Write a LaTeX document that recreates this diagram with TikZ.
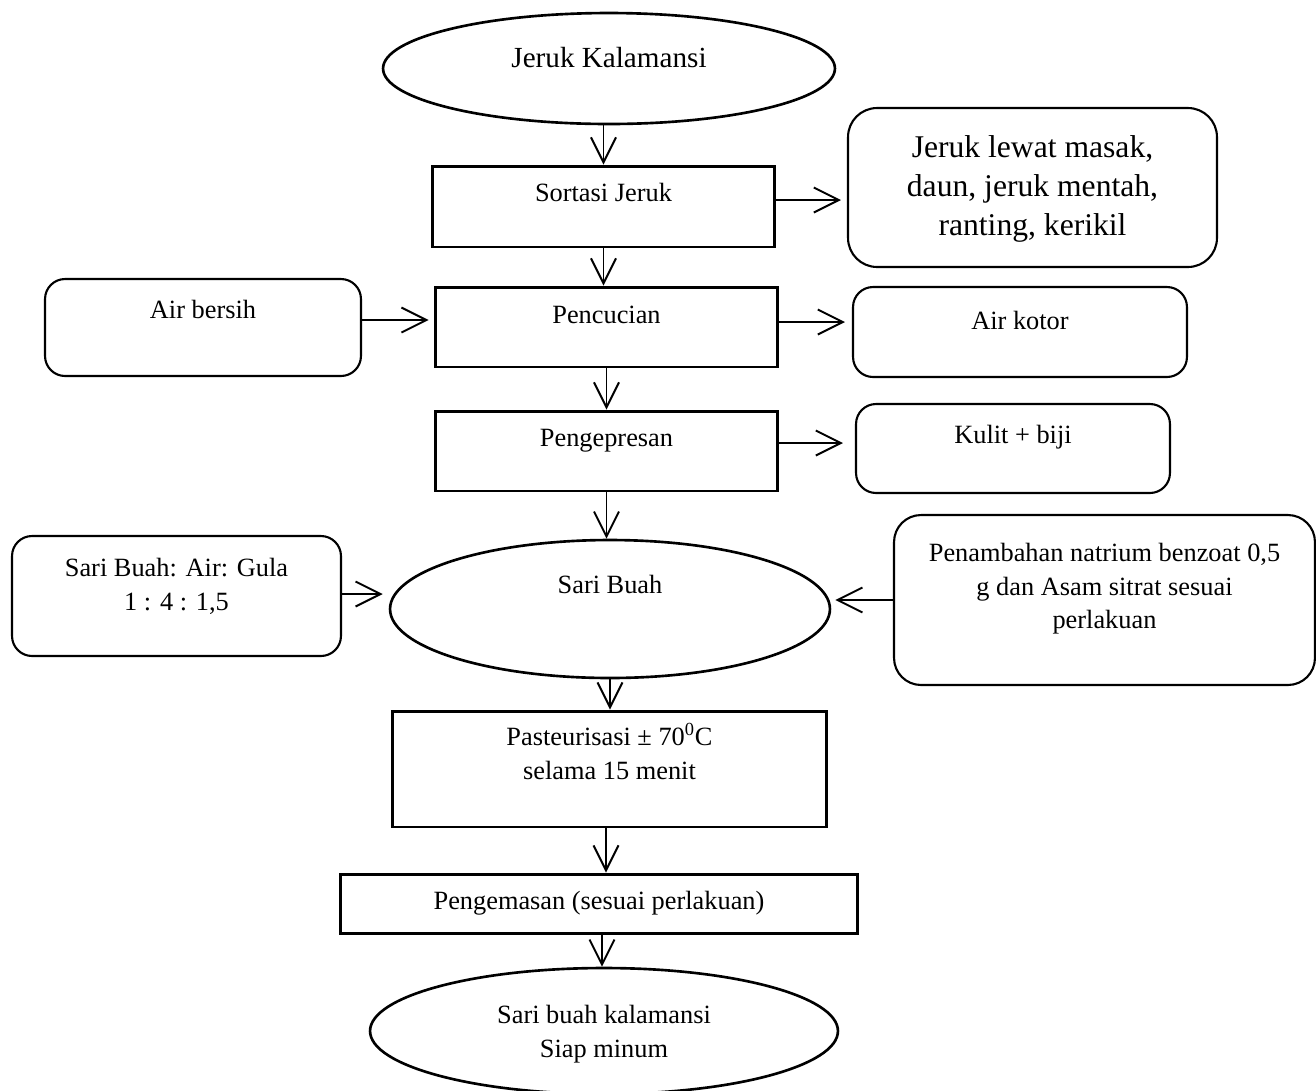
\documentclass[tikz,border=0pt]{standalone}
\usepackage{fontspec}
\setmainfont{Liberation Serif}
\usepackage{tikz}
\usetikzlibrary{shapes.geometric,arrows.meta,positioning,calc}

% lift the text of a box towards its top edge
\newcommand{\boxtext}[2]{\raisebox{#1}[0pt][0pt]{\begin{tabular}{@{}c@{}}#2\end{tabular}}}

\begin{document}
\begin{tikzpicture}[
    x=0.02cm, y=-0.02cm,
    font=\fontsize{15}{19.6}\selectfont,
    inner sep=0pt,
    proc/.style={rectangle, draw=black, line width=1.7pt, text centered},
    side/.style={rectangle, rounded corners=0.4cm, draw=black, line width=1.2pt, text centered},
    term/.style={ellipse, draw=black, line width=1.5pt, text centered},
    flow/.style={-{Straight Barb[length=0.5cm, width=0.5cm]}, line width=1.1pt}
]
    \useasboundingbox (0,0) rectangle (1316,1090);

    % main column
    \node[term, minimum width=9.04cm, minimum height=2.22cm, font=\fontsize{16.6}{20}\selectfont] (start) at (609,68.5) {\boxtext{0.4pt}{Jeruk Kalamansi}};
    \node[proc, minimum width=6.86cm, minimum height=1.62cm] (sort) at (603.5,206.5) {\boxtext{3.3pt}{Sortasi Jeruk}};
    \node[proc, minimum width=6.86cm, minimum height=1.6cm] (wash) at (606.5,327) {\boxtext{2.4pt}{Pencucian}};
    \node[proc, minimum width=6.86cm, minimum height=1.6cm] (press) at (606.5,451) {\boxtext{3pt}{Pengepresan}};
    \node[term, minimum width=8.8cm, minimum height=2.76cm] (juice) at (610,609) {\boxtext{9.3pt}{Sari Buah}};
    \node[proc, minimum width=8.7cm, minimum height=2.32cm] (pasteur) at (609.5,769) {\boxtext{4.1pt}{Pasteurisasi ± 70\textsuperscript{0}C\\selama 15 menit}};
    \node[proc, minimum width=10.36cm, minimum height=1.18cm] (pack) at (599,903.5) {\boxtext{-3pt}{Pengemasan (sesuai perlakuan)}};
    \node[term, minimum width=9.36cm, minimum height=2.52cm] (finish) at (604,1031) {\boxtext{-5.2pt}{Sari buah kalamansi\\Siap minum}};

    % inputs and by-products
    \node[side, rounded corners=0.58cm, minimum width=7.38cm, minimum height=3.18cm, font=\fontsize{18}{22}\selectfont] (waste) at (1032.5,187.5) {\boxtext{-5.1pt}{Jeruk lewat masak,\\daun, jeruk mentah,\\ranting, kerikil}};
    \node[side, minimum width=6.32cm, minimum height=1.94cm] (clean) at (203,327.5) {\boxtext{5.6pt}{Air bersih}};
    \node[side, minimum width=6.68cm, minimum height=1.8cm] (dirty) at (1020,332) {\boxtext{1.9pt}{Air kotor}};
    \node[side, minimum width=6.28cm, minimum height=1.78cm] (peel) at (1013,448.5) {\boxtext{3.3pt}{Kulit + biji}};
    \node[side, minimum width=6.58cm, minimum height=2.4cm] (ratio) at (176.5,596) {\boxtext{1.6pt}{Sari Buah: Air: Gula\\1 : 4 : 1,5}};
    \node[side, rounded corners=0.54cm, minimum width=8.42cm, minimum height=3.4cm, font=\fontsize{15}{19}\selectfont] (additive) at (1104.5,600) {\boxtext{3pt}{Penambahan natrium benzoat 0,5\\g dan Asam sitrat sesuai\\perlakuan}};

    % down the column
    \draw[flow] (start.south -| sort.north) -- (sort.north);
    \draw[flow] (sort.south) -- (sort.south |- wash.north);
    \draw[flow] (wash.south) -- (press.north);
    \draw[flow] (press.south) -- (press.south |- juice.north);
    \draw[flow] (juice.south) -- (juice.south |- pasteur.north);
    \draw[flow] ([xshift=-0.07cm]pasteur.south) -- ([xshift=-0.07cm]pasteur.south |- pack.north);
    \draw[flow] ([xshift=0.06cm]pack.south) -- ([xshift=0.06cm]pack.south |- finish.north);

    % side arrows
    \draw[flow, shorten >=0.12cm] ([yshift=0.13cm]sort.east) -- ([yshift=0.13cm]sort.east -| waste.west);
    \draw[flow, shorten >=0.1cm] ([yshift=0.15cm]clean.east) -- ([yshift=0.15cm]clean.east -| wash.west);
    \draw[flow, shorten >=0.14cm] ([yshift=0.1cm]wash.east) -- ([yshift=0.1cm]wash.east -| dirty.west);
    \draw[flow, shorten >=0.24cm] ([yshift=0.16cm]press.east) -- ([yshift=0.16cm]press.east -| peel.west);
    \draw[flow, shorten >=0.12cm] ([yshift=0.04cm]ratio.east) -- ([yshift=0.04cm]ratio.east -| juice.west);
    \draw[flow, shorten >=0.08cm] (additive.west) -- (additive.west -| juice.east);
\end{tikzpicture}
\end{document}
